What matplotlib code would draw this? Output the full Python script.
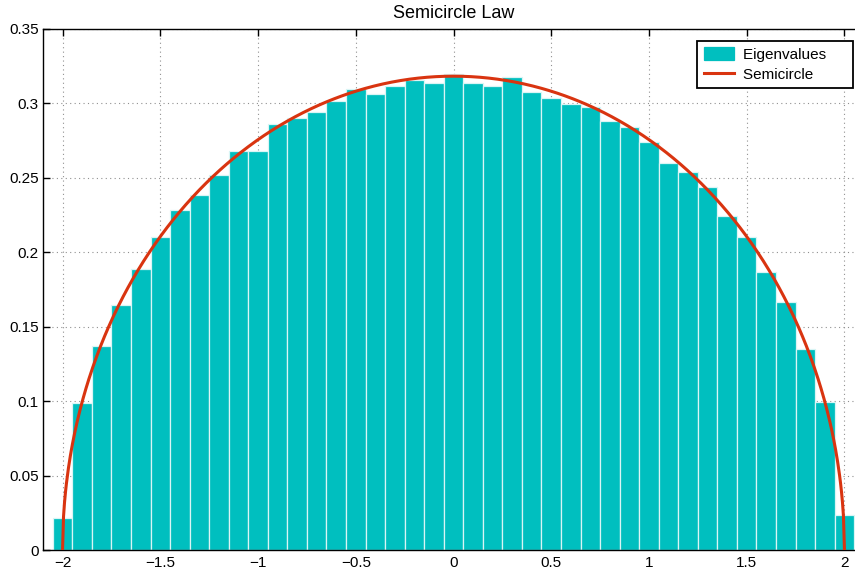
import numpy as np
import matplotlib
matplotlib.use('Agg')
import matplotlib.pyplot as plt

# bin centres of the eigenvalue histogram (width 0.1)
bin_centers = [round(-2.0 + 0.1 * i, 1) for i in range(41)]
# normalised bar heights
heights = [0.0217, 0.0990, 0.1370, 0.1646, 0.1886, 0.2103, 0.2284, 0.2383,
           0.2521, 0.2680, 0.2680, 0.2860, 0.2900, 0.2940, 0.3018, 0.3097,
           0.3061, 0.3119, 0.3157, 0.3139, 0.3198, 0.3139, 0.3119, 0.3180,
           0.3079, 0.3039, 0.2998, 0.2978, 0.2880, 0.2840, 0.2743, 0.2600,
           0.2539, 0.2441, 0.2246, 0.2103, 0.1865, 0.1666, 0.1348, 0.0992,
           0.0235]
bin_width = 0.1

# semicircle law density, radius 2 (where the curve meets the axis)
radius = 2.0
xs = np.linspace(-radius, radius, 801)
semicircle = np.sqrt(radius**2 - xs**2) / (np.pi * radius**2 / 2)

xticks = [-2, -1.5, -1, -0.5, 0, 0.5, 1, 1.5, 2]
xtick_labels = ['\u22122', '\u22121.5', '\u22121', '\u22120.5', '0', '0.5', '1', '1.5', '2']
yticks = [0, 0.05, 0.1, 0.15, 0.2, 0.25, 0.3, 0.35]
ytick_labels = ['0', '0.05', '0.1', '0.15', '0.2', '0.25', '0.3', '0.35']
legend_labels = ['Eigenvalues', 'Semicircle']

plt.rcParams['font.family'] = ['Liberation Sans', 'DejaVu Sans']

fig = plt.figure(figsize=(8.55, 5.75), dpi=100)
# axes runs past the right edge of the image, as in the original
ax = fig.add_axes([43 / 855, 25 / 575, 821 / 855, 521 / 575])

bars = ax.bar(bin_centers, heights, width=bin_width, color='#00bfbf',
              edgecolor='#d9f5f5', linewidth=0.9, zorder=2)
line, = ax.plot(xs, semicircle, color='#d93410', linewidth=2.2, zorder=3)

ax.set_xlim(-2.1, 2.1)
ax.set_ylim(0, 0.35)
ax.set_xticks(xticks)
ax.set_xticklabels(xtick_labels)
ax.set_yticks(yticks)
ax.set_yticklabels(ytick_labels)
ax.tick_params(direction='in', length=5, width=1, top=True, right=True,
               labelsize=11, colors='black')
ax.tick_params(axis='y', pad=3)
ax.tick_params(axis='x', pad=4)
ax.set_axisbelow(True)
ax.grid(True, linestyle=(0, (1, 3)), color='#909090', linewidth=0.8)
for s in ax.spines.values():
    s.set_linewidth(1.0)
    s.set_color('black')

ax.set_title('Semicircle Law', fontsize=13, pad=8)

# MATLAB-style legend leaves extra room right of the text
leg = ax.legend([bars, line], [t + '     ' for t in legend_labels],
                loc='upper right', bbox_to_anchor=(810 / 821, 0.977), fontsize=11,
                frameon=True, fancybox=False, borderpad=0.4, handlelength=2.0,
                handleheight=0.95, handletextpad=0.55, labelspacing=0.35,
                borderaxespad=0.0)
leg.get_frame().set_edgecolor('black')
leg.get_frame().set_linewidth(1.3)
leg.get_frame().set_alpha(1)
for p in leg.get_patches():
    p.set_edgecolor('#00bfbf')

fig.savefig('out.png', dpi=100)
